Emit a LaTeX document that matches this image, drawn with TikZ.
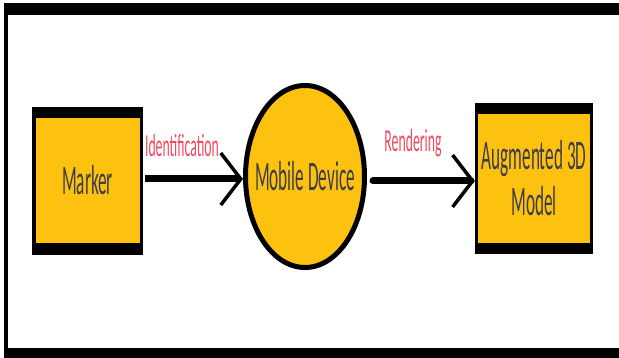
\documentclass[tikz,border=0pt]{standalone}
\usepackage{fontspec}
\setmainfont{Carlito}
\usetikzlibrary{arrows.meta,shapes.geometric}
\definecolor{boxyellow}{HTML}{FDC210}
\definecolor{labelred}{HTML}{F04A60}
\definecolor{txtgray}{HTML}{3C3C48}
\newcommand{\hsq}[1]{\scalebox{0.41}[1]{#1}}
\newcommand{\lsq}[1]{\scalebox{0.43}[1]{#1}}
\tikzset{
  outerbox/.style={rectangle, fill=black, inner sep=0pt},
  innerbox/.style={rectangle, fill=boxyellow, inner sep=0pt, text=txtgray, align=center,
    font=\fontsize{42}{46}\selectfont},
  ovalnode/.style={ellipse, draw=black, line width=5pt, fill=boxyellow, inner sep=0pt,
    text=txtgray, font=\fontsize{42}{46}\selectfont},
  flowarrow/.style={line width=7pt, -{Straight Barb[length=20pt, width=52pt, line width=3.5pt]}},
  flowlabel/.style={text=labelred, font=\fontsize{32}{34}\selectfont, inner sep=0pt},
  frameband/.style={fill=black}
}
\begin{document}
\begin{tikzpicture}[x=1pt,y=-1pt]
\useasboundingbox (0,0) rectangle (619,358);
% frame
\fill[frameband] (4,3) rectangle (619,15);
\fill[frameband] (4,3) rectangle (8,358);
\fill[frameband] (4,348) rectangle (619,358);
% Marker
\node[outerbox, minimum width=111pt, minimum height=148pt] (mkout) at (87.5,181) {};
\node[innerbox, minimum width=104pt, minimum height=125pt] (mk) at (87.5,180.5) {\hsq{Marker}};
% Mobile Device
\node[ovalnode, minimum width=119pt, minimum height=182pt] (md) at (305,176.5) {\makebox[0pt]{\hsq{Mobile Device}}};
% Augmented 3D Model
\node[outerbox, minimum width=118pt, minimum height=151pt] (amout) at (534,178.5) {};
\node[innerbox, minimum width=112pt, minimum height=129pt] (am) at (534,178.5) {\hsq{Augmented 3D}\\\hsq{Model}};
% connectors
\draw[flowarrow] (mkout.east |- 0,179) ++(2,0) coordinate (a1s) -- (a1s -| md.west) coordinate (a1e);
\draw[flowarrow, line cap=round] (md.east |- 0,181) ++(6,0) coordinate (a2s) -- (a2s -| amout.west) coordinate (a2e);
% labels
\node[flowlabel] (lid) at (182,146) {\lsq{Identification}};
\node[flowlabel] (lrd) at (413,143) {\lsq{Rendering}};
\end{tikzpicture}
\end{document}
